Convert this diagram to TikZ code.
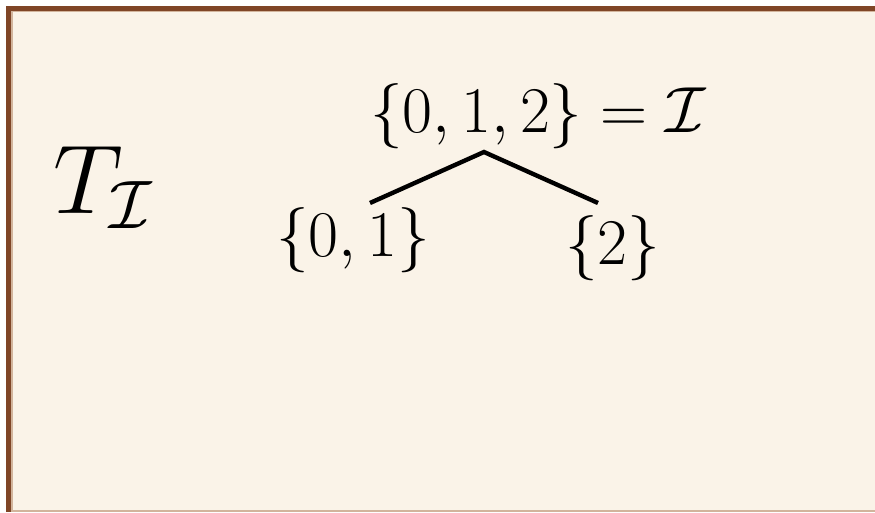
\RequirePackage{fix-cm}
\documentclass[tikz,border=0pt]{standalone}
\definecolor{framebrown}{HTML}{7F4526}
\definecolor{framelight}{HTML}{D2B49C}
\definecolor{paper}{HTML}{FAF3E8}
\tikzset{
  setlabel/.style={inner sep=0pt, anchor=base west, font=\fontsize{32.6}{38}\selectfont},
  bigtitle/.style={inner sep=0pt, anchor=base west, font=\fontsize{49}{58}\selectfont},
  edge/.style={line width=2.2pt, line cap=butt}
}
\begin{document}
\begin{tikzpicture}[x=0.5pt,y=-0.5pt]
\useasboundingbox (0,0) rectangle (875,513);
\fill[white] (0,0) rectangle (875,513);
\fill[paper] (6,6) rectangle (875,512);
\draw[framelight, line width=1pt] (6,511.5) -- (875,511.5);
\fill[framelight] (11,11) rectangle (875,12.5);
\fill[framelight] (11,11) rectangle (12.5,511);
\fill[framebrown] (6,6) rectangle (875,11);
\fill[framebrown] (6,6) rectangle (11,512);
\node[bigtitle] (title) at (53,214) {$T_{\mathcal{I}}$};
\node[setlabel] (root) at (370,133) {$\{0,1,2\} = \mathcal{I}$};
\node[setlabel] (left) at (276,257) {$\{0,1\}$};
\node[setlabel] (right) at (565,265) {$\{2\}$};
\coordinate (apex) at (484,152);
\coordinate (lend) at (370,203);
\coordinate (rend) at (598,203);
\draw[edge] (lend) -- (apex) -- (rend);
\end{tikzpicture}
\end{document}
